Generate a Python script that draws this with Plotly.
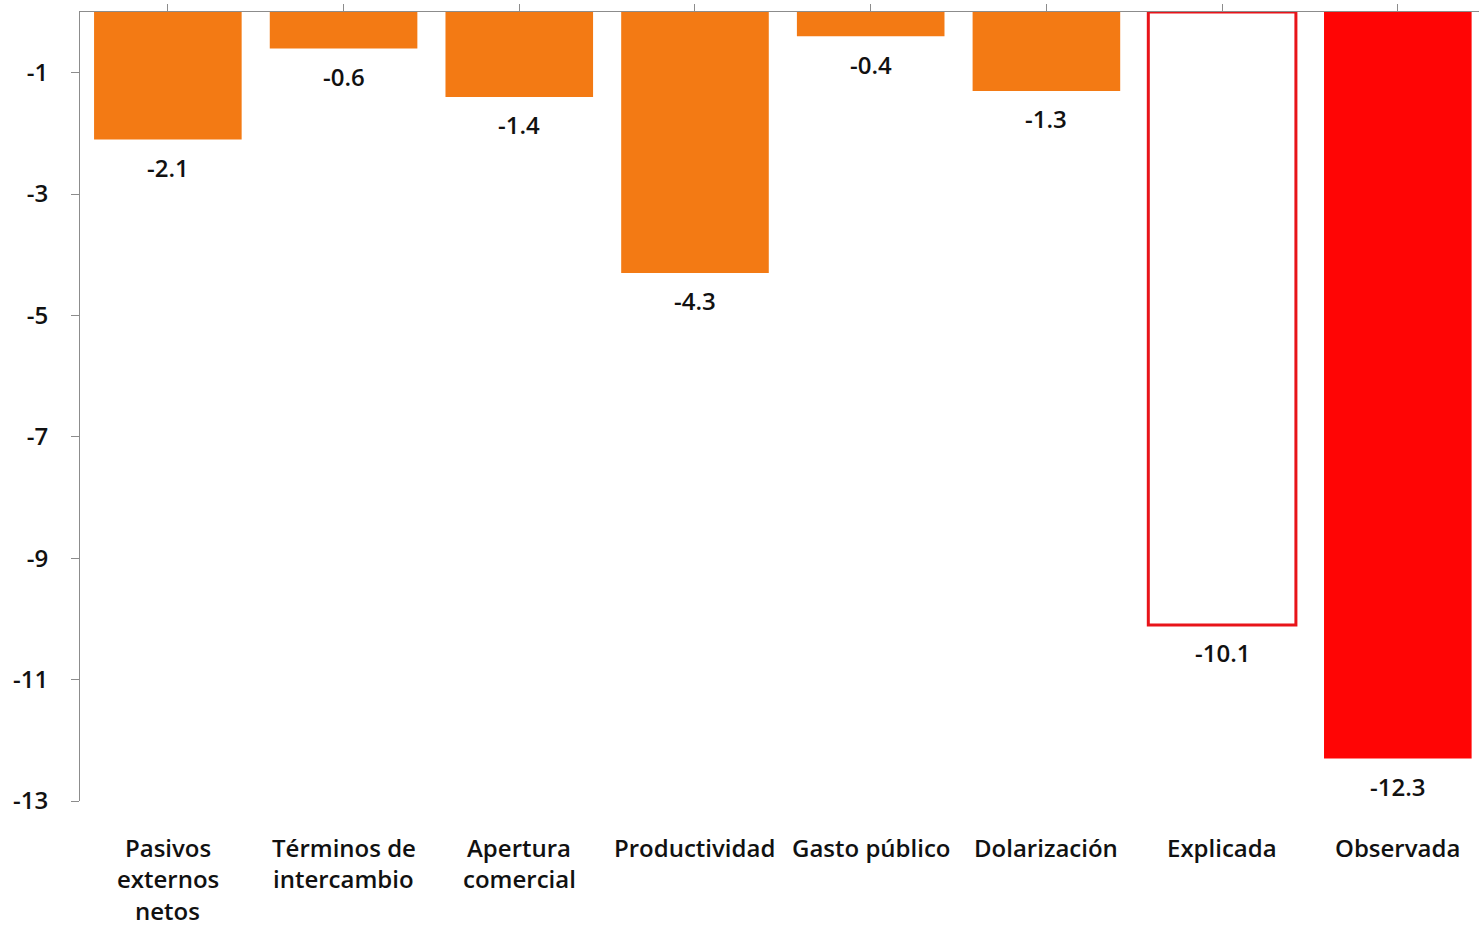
import plotly.graph_objects as go

categories = ["Pasivos externos netos", "Términos de intercambio", "Apertura comercial",
              "Productividad", "Gasto público", "Dolarización", "Explicada", "Observada"]
tick_labels = ["Pasivos<br>externos<br>netos", "Términos de<br>intercambio", "Apertura<br>comercial",
               "Productividad", "Gasto público", "Dolarización", "Explicada", "Observada"]
values = [-2.1, -0.6, -1.4, -4.3, -0.4, -1.3, -10.1, -12.3]
value_labels = ["-2.1", "-0.6", "-1.4", "-4.3", "-0.4", "-1.3", "-10.1", "-12.3"]
y_ticks = [-1, -3, -5, -7, -9, -11, -13]
y_tick_labels = ["-1", "-3", "-5", "-7", "-9", "-11", "-13"]

ORANGE = "#F37A14"
RED = "#FF0505"
fill_colors = [ORANGE] * 6 + ["white", RED]
line_colors = [ORANGE] * 6 + ["#E8141A", RED]
line_widths = [0] * 6 + [3, 0]

FONT = "Open Sans"
TXT = "#111111"
fig = go.Figure()
fig.add_trace(go.Bar(
    x=categories, y=values,
    marker=dict(color=fill_colors, line=dict(color=line_colors, width=line_widths)),
    hoverinfo="skip",
))
# invisible trace for the top axis
fig.add_trace(go.Scatter(x=categories, y=[0] * len(categories), xaxis="x2", mode="markers",
                         marker=dict(opacity=0), hoverinfo="skip", showlegend=False))

for c, v, t in zip(categories, values, value_labels):
    fig.add_annotation(x=c, y=v, text=t, showarrow=False, yshift=-28, yanchor="middle",
                       font=dict(family=FONT, size=24, color=TXT, weight=600))

# category labels, one annotation per line (wider line spacing than plotly default)
for c, lab in zip(categories, tick_labels):
    for i, line in enumerate(lab.split("<br>")):
        fig.add_annotation(x=c, y=0, xref="x", yref="paper", text=line, showarrow=False,
                           yanchor="middle", yshift=-46 - 31.5 * i, borderpad=0,
                           font=dict(family=FONT, size=24, color=TXT, weight=600))

fig.update_layout(
    width=1479, height=927,
    margin=dict(l=80, r=0, t=12, b=126),
    plot_bgcolor="white", paper_bgcolor="white",
    showlegend=False, bargap=0.16,
    font=dict(family=FONT, size=24, color=TXT, weight=600),
    xaxis=dict(
        type="category", range=[-0.5, 7.462],
        showticklabels=False,
        showline=False, ticks="", showgrid=False, zeroline=False,
    ),
    xaxis2=dict(
        type="category", overlaying="x", side="top", matches="x", anchor="y",
        tickmode="array", tickvals=categories, showticklabels=False,
        showline=True, linecolor="#8C8C8C", linewidth=1,
        ticks="outside", ticklen=7, tickcolor="#8C8C8C", showgrid=False, zeroline=False,
    ),
    yaxis=dict(
        range=[-13, 0], tickmode="array", tickvals=y_ticks, ticktext=y_tick_labels,
        showline=True, linecolor="#8C8C8C", linewidth=1,
        ticks="outside", ticklen=8, tickcolor="#8C8C8C",
        showgrid=False, zeroline=False, ticklabelstandoff=18,
        tickfont=dict(family=FONT, size=24, color=TXT, weight=600),
    ),
)

fig.write_html("out.html")
